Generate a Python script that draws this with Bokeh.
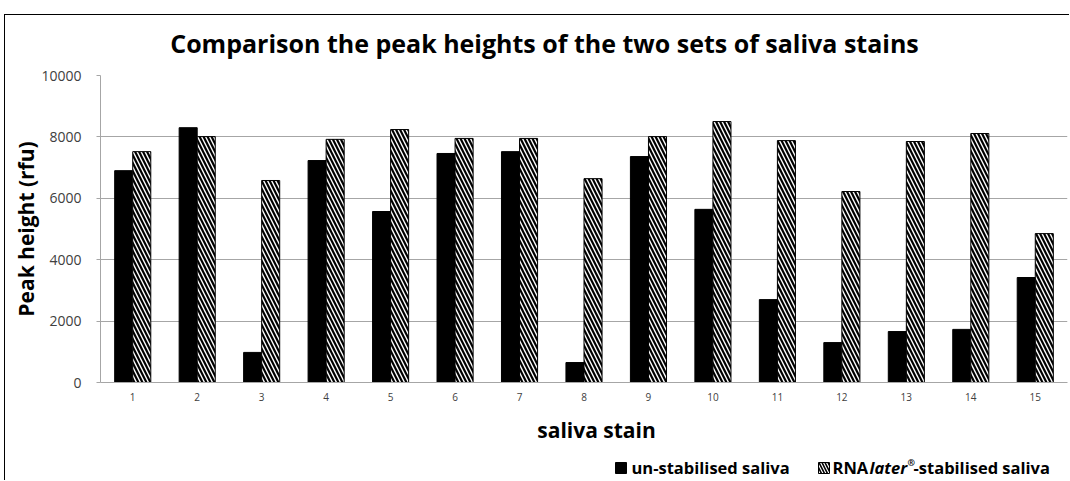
from bokeh.plotting import figure
from bokeh.models import FactorRange, Range1d, ColumnDataSource, FixedTicker, Spacer
from bokeh.layouts import column, row
from bokeh.transform import dodge
from bokeh.core.properties import value
from bokeh.embed import file_html
from bokeh.resources import INLINE

# ---------------- data ----------------
stains = [str(i) for i in range(1, 16)]
unstabilised = [6900, 8300, 980, 7230, 5570, 7460, 7520, 650, 7360, 5640, 2700, 1300, 1660, 1730, 3420]
rnalater = [7520, 8010, 6580, 7920, 8240, 7950, 7950, 6640, 8010, 8500, 7880, 6220, 7850, 8110, 4850]
y_ticks = [0, 2000, 4000, 6000, 8000, 10000]
title_text = "Comparison the peak heights of the two sets of saliva stains"
x_title = "saliva stain"
y_title = "Peak height (rfu)"
series_names = ["un-stabilised saliva", "RNAlater®-stabilised saliva"]

FONT = "Open Sans"
GRID = "#a6a6a6"
HATCH = dict(hatch_pattern="\\", hatch_color="black", hatch_scale=8, hatch_weight=2.2)

# page-pixel layout (reference); the page itself has no margin
BORDER_X, BORDER_Y = 4, 14          # outer chart border lines
ORIGIN_X, ORIGIN_Y = BORDER_X + 1, BORDER_Y + 1
F_LEFT, F_RIGHT, F_TOP, F_BOTTOM = 100, 1067, 76, 383
TOP_SPLIT = 66                      # page y where the plot figure starts
SPLIT = 412                         # page y where the lower strip starts
PAGE_W, PAGE_H = 1070, 481
W = PAGE_W - ORIGIN_X
MB_LEFT = F_LEFT - ORIGIN_X
MB_RIGHT = W - (F_RIGHT - ORIGIN_X)


def strip(y0, y1, styles):
    f = figure(width=W, height=y1 - y0, x_range=Range1d(F_LEFT, F_RIGHT),
               y_range=Range1d(y1, y0), output_backend="svg", toolbar_location=None,
               x_axis_type=None, y_axis_type=None, min_border_top=0, min_border_bottom=0,
               min_border_left=MB_LEFT, min_border_right=MB_RIGHT)
    f.styles = styles
    f.outline_line_color = None
    f.xgrid.grid_line_color = None
    f.ygrid.grid_line_color = None
    return f


# ---------------- title strip ----------------
tt = strip(ORIGIN_Y, TOP_SPLIT, {"border-left": "1px solid black", "border-top": "1px solid black"})
tt.text(x=[544], y=[42], text=[title_text], text_align="center", text_baseline="middle",
        text_font=value(FONT), text_font_style="bold", text_font_size="25px", text_color="black")

# ---------------- main plot ----------------
H_MAIN = SPLIT - TOP_SPLIT
p = figure(
    x_range=FactorRange(*stains, range_padding=0),
    y_range=Range1d(0, 10000),
    width=W, height=H_MAIN,
    output_backend="svg", toolbar_location=None,
    min_border_left=MB_LEFT, min_border_right=MB_RIGHT,
    min_border_top=F_TOP - TOP_SPLIT,
    min_border_bottom=SPLIT - F_BOTTOM,
)
p.styles = {"border-left": "1px solid black"}
p.outline_line_color = None

src = ColumnDataSource(dict(stain=stains, un=unstabilised, rna=rnalater))
p.vbar(x=dodge("stain", -0.14, range=p.x_range), top="un", width=0.28, source=src,
       fill_color="black", line_color="black", line_width=1)
p.vbar(x=dodge("stain", 0.14, range=p.x_range), top="rna", width=0.28, source=src,
       fill_color="white", line_color="black", line_width=1, **HATCH)

p.xgrid.grid_line_color = None
p.ygrid.grid_line_color = GRID
p.ygrid.grid_line_width = 1.2
p.yaxis.ticker = FixedTicker(ticks=y_ticks)
p.yaxis.axis_line_color = GRID
p.yaxis.major_tick_line_color = GRID
p.yaxis.major_tick_out = 4
p.yaxis.major_tick_in = 0
p.yaxis.minor_tick_line_color = None
p.yaxis.major_label_standoff = 15
p.yaxis.major_label_text_font = FONT
p.yaxis.major_label_text_font_size = "14px"
p.yaxis.major_label_text_color = "#404040"
p.yaxis.axis_label = y_title
p.yaxis.axis_label_text_font = FONT
p.yaxis.axis_label_text_font_style = "bold"
p.yaxis.axis_label_text_font_size = "21px"
p.yaxis.axis_label_text_color = "black"
p.yaxis.axis_label_standoff = -2

p.xaxis.axis_line_color = GRID
p.xaxis.major_tick_line_color = None
p.xaxis.minor_tick_line_color = None
p.xaxis.major_tick_out = 0
p.xaxis.major_label_standoff = 10
p.xaxis.major_label_text_font = FONT
p.xaxis.major_label_text_font_size = "10px"
p.xaxis.major_label_text_color = "#404040"

# ---------------- lower strip: x-axis title and legend ----------------
lg = strip(SPLIT, PAGE_H, {"border-left": "1px solid black"})
lg.text(x=[596], y=[430], text=[x_title], text_align="center", text_baseline="middle",
        text_font=value(FONT), text_font_style="bold", text_font_size="21px", text_color="black")

lg.quad(left=[615], right=[626], top=[463], bottom=[474], fill_color="black", line_color="black")
lg.quad(left=[818], right=[829], top=[463], bottom=[474], fill_color="white", line_color="black",
        line_width=1, hatch_pattern="\\", hatch_color="black", hatch_scale=6, hatch_weight=1.6)
txt = dict(text_baseline="middle", text_align="left", text_font=value(FONT),
           text_font_size="16.5px", text_color="black")
lg.text(x=[631], y=[468], text=[series_names[0]], text_font_style="bold", **txt)
lg.text(x=[832], y=[468], text=["RNA"], text_font_style="bold", **txt)
lg.text(x=[869], y=[468], text=["later"], text_font_style="bold italic", **txt)
lg.text(x=[907], y=[463], text=["®"], text_font_style="bold", text_baseline="middle",
        text_align="left", text_font=value(FONT), text_font_size="9px", text_color="black")
lg.text(x=[913], y=[468], text=["-stabilised saliva"], text_font_style="bold", **txt)

layout = column(Spacer(height=BORDER_Y),
                row(Spacer(width=BORDER_X), column(tt, p, lg, spacing=0), spacing=0),
                spacing=0)
open("out.html", "w").write(file_html(layout, INLINE))
